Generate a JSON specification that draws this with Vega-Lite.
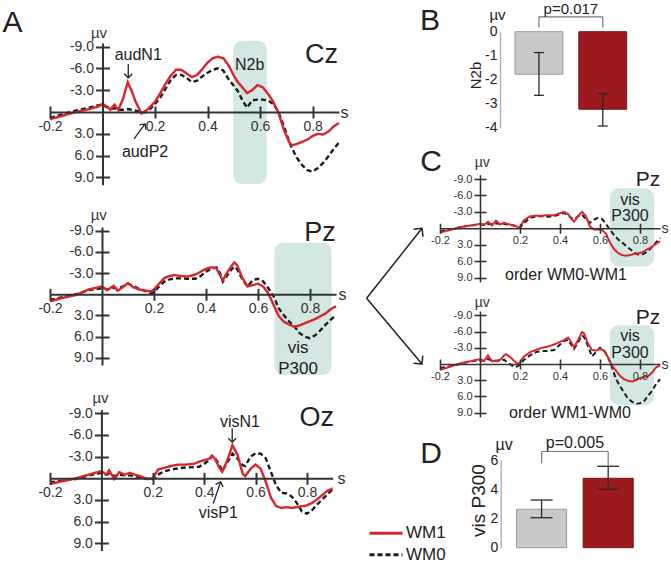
{
"$schema":"https://vega.github.io/schema/vega-lite/v6.json",
"width":671,"height":583,"autosize":{"type":"none"},"padding":0,"background":"white",
"config":{"view":{"stroke":null},"font":"Liberation Sans","text":{"font":"Liberation Sans","color":"#222"},"axis":{"labelFont":"Liberation Sans","titleFont":"Liberation Sans","titleFontWeight":"normal","grid":false},"legend":{"labelFont":"Liberation Sans"}},
"datasets":{"erp":[
{"p":"Cz","t":-0.2,"WM1":1.0,"WM0":0.8},{"p":"Cz","t":-0.15,"WM1":0.5,"WM0":0.3},{"p":"Cz","t":-0.1,"WM1":0.0,"WM0":-0.2},{"p":"Cz","t":-0.05,"WM1":-0.4,"WM0":-0.6},{"p":"Cz","t":-0.02,"WM1":-0.7,"WM0":-0.9},{"p":"Cz","t":0,"WM1":-1.1,"WM0":-1.0},{"p":"Cz","t":0.02,"WM1":-0.7,"WM0":-0.6},{"p":"Cz","t":0.03,"WM1":-0.3,"WM0":-0.4},{"p":"Cz","t":0.045,"WM1":-1.0,"WM0":-0.5},{"p":"Cz","t":0.06,"WM1":-0.3,"WM0":-0.3},{"p":"Cz","t":0.078,"WM1":-1.8,"WM0":-0.3},{"p":"Cz","t":0.096,"WM1":-4.1,"WM0":-0.4},{"p":"Cz","t":0.112,"WM1":-2.8,"WM0":-0.3},{"p":"Cz","t":0.125,"WM1":-1.5,"WM0":-0.2},{"p":"Cz","t":0.148,"WM1":0.2,"WM0":0.1},{"p":"Cz","t":0.17,"WM1":-0.3,"WM0":0.0},{"p":"Cz","t":0.2,"WM1":-1.4,"WM0":-1.1},{"p":"Cz","t":0.22,"WM1":-2.6,"WM0":-2.0},{"p":"Cz","t":0.24,"WM1":-3.9,"WM0":-3.2},{"p":"Cz","t":0.26,"WM1":-5.0,"WM0":-4.4},{"p":"Cz","t":0.28,"WM1":-5.8,"WM0":-5.1},{"p":"Cz","t":0.3,"WM1":-5.8,"WM0":-5.1},{"p":"Cz","t":0.32,"WM1":-5.3,"WM0":-4.7},{"p":"Cz","t":0.34,"WM1":-4.8,"WM0":-4.1},{"p":"Cz","t":0.36,"WM1":-5.1,"WM0":-4.3},{"p":"Cz","t":0.38,"WM1":-5.9,"WM0":-4.9},{"p":"Cz","t":0.4,"WM1":-6.8,"WM0":-5.4},{"p":"Cz","t":0.42,"WM1":-7.4,"WM0":-5.8},{"p":"Cz","t":0.44,"WM1":-7.6,"WM0":-6.0},{"p":"Cz","t":0.46,"WM1":-7.4,"WM0":-5.7},{"p":"Cz","t":0.48,"WM1":-6.4,"WM0":-4.5},{"p":"Cz","t":0.5,"WM1":-5.0,"WM0":-3.6},{"p":"Cz","t":0.515,"WM1":-4.1,"WM0":-2.9},{"p":"Cz","t":0.53,"WM1":-3.5,"WM0":-1.8},{"p":"Cz","t":0.55,"WM1":-2.6,"WM0":-0.6},{"p":"Cz","t":0.57,"WM1":-3.0,"WM0":-1.6},{"p":"Cz","t":0.59,"WM1":-3.7,"WM0":-1.7},{"p":"Cz","t":0.61,"WM1":-3.4,"WM0":-1.7},{"p":"Cz","t":0.63,"WM1":-2.5,"WM0":-1.6},{"p":"Cz","t":0.65,"WM1":-1.4,"WM0":-1.1},{"p":"Cz","t":0.67,"WM1":0.1,"WM0":0.0},{"p":"Cz","t":0.69,"WM1":2.4,"WM0":1.9},{"p":"Cz","t":0.71,"WM1":4.1,"WM0":4.0},{"p":"Cz","t":0.72,"WM1":4.6,"WM0":4.9},{"p":"Cz","t":0.74,"WM1":4.4,"WM0":6.3},{"p":"Cz","t":0.76,"WM1":4.1,"WM0":7.3},{"p":"Cz","t":0.78,"WM1":3.8,"WM0":8.0},{"p":"Cz","t":0.8,"WM1":3.3,"WM0":8.2},{"p":"Cz","t":0.82,"WM1":3.0,"WM0":7.7},{"p":"Cz","t":0.84,"WM1":3.1,"WM0":7.0},{"p":"Cz","t":0.86,"WM1":2.7,"WM0":6.1},{"p":"Cz","t":0.88,"WM1":2.0,"WM0":5.1},{"p":"Cz","t":0.9,"WM1":1.5,"WM0":4.2},
{"p":"Pz","t":-0.2,"WM1":1.0,"WM0":0.8},{"p":"Pz","t":-0.15,"WM1":0.5,"WM0":0.4},{"p":"Pz","t":-0.1,"WM1":0.1,"WM0":0.0},{"p":"Pz","t":-0.05,"WM1":-0.7,"WM0":-0.6},{"p":"Pz","t":0,"WM1":-1.1,"WM0":-0.85},{"p":"Pz","t":0.02,"WM1":-0.6,"WM0":-0.7},{"p":"Pz","t":0.045,"WM1":-1.2,"WM0":-0.9},{"p":"Pz","t":0.06,"WM1":-0.5,"WM0":-0.8},{"p":"Pz","t":0.08,"WM1":-1.0,"WM0":-1.1},{"p":"Pz","t":0.1,"WM1":-1.6,"WM0":-1.5},{"p":"Pz","t":0.12,"WM1":-1.0,"WM0":-1.2},{"p":"Pz","t":0.14,"WM1":-0.7,"WM0":-0.8},{"p":"Pz","t":0.17,"WM1":-0.5,"WM0":-0.4},{"p":"Pz","t":0.19,"WM1":-0.4,"WM0":-0.15},{"p":"Pz","t":0.2,"WM1":-0.7,"WM0":-0.3},{"p":"Pz","t":0.22,"WM1":-1.5,"WM0":-1.1},{"p":"Pz","t":0.24,"WM1":-2.3,"WM0":-1.8},{"p":"Pz","t":0.26,"WM1":-2.6,"WM0":-2.1},{"p":"Pz","t":0.28,"WM1":-2.7,"WM0":-2.25},{"p":"Pz","t":0.3,"WM1":-2.6,"WM0":-2.25},{"p":"Pz","t":0.33,"WM1":-2.5,"WM0":-2.2},{"p":"Pz","t":0.36,"WM1":-2.8,"WM0":-2.2},{"p":"Pz","t":0.38,"WM1":-3.2,"WM0":-2.6},{"p":"Pz","t":0.4,"WM1":-3.6,"WM0":-3.2},{"p":"Pz","t":0.42,"WM1":-3.8,"WM0":-3.6},{"p":"Pz","t":0.44,"WM1":-3.7,"WM0":-3.8},{"p":"Pz","t":0.455,"WM1":-2.6,"WM0":-2.9},{"p":"Pz","t":0.465,"WM1":-2.0,"WM0":-1.8},{"p":"Pz","t":0.48,"WM1":-3.0,"WM0":-2.6},{"p":"Pz","t":0.5,"WM1":-4.1,"WM0":-3.6},{"p":"Pz","t":0.51,"WM1":-4.5,"WM0":-3.9},{"p":"Pz","t":0.52,"WM1":-4.1,"WM0":-3.5},{"p":"Pz","t":0.54,"WM1":-2.3,"WM0":-2.1},{"p":"Pz","t":0.56,"WM1":-1.1,"WM0":-1.1},{"p":"Pz","t":0.58,"WM1":-1.3,"WM0":-2.0},{"p":"Pz","t":0.6,"WM1":-1.5,"WM0":-2.2},{"p":"Pz","t":0.62,"WM1":-1.1,"WM0":-1.8},{"p":"Pz","t":0.64,"WM1":-0.1,"WM0":-0.85},{"p":"Pz","t":0.66,"WM1":1.5,"WM0":0.3},{"p":"Pz","t":0.68,"WM1":3.1,"WM0":2.0},{"p":"Pz","t":0.7,"WM1":3.9,"WM0":3.0},{"p":"Pz","t":0.72,"WM1":4.3,"WM0":3.85},{"p":"Pz","t":0.74,"WM1":4.6,"WM0":4.55},{"p":"Pz","t":0.76,"WM1":4.4,"WM0":5.5},{"p":"Pz","t":0.78,"WM1":4.1,"WM0":6.0},{"p":"Pz","t":0.8,"WM1":3.8,"WM0":6.2},{"p":"Pz","t":0.82,"WM1":3.5,"WM0":5.8},{"p":"Pz","t":0.84,"WM1":3.1,"WM0":5.1},{"p":"Pz","t":0.86,"WM1":2.7,"WM0":4.3},{"p":"Pz","t":0.88,"WM1":2.1,"WM0":3.6},{"p":"Pz","t":0.9,"WM1":1.7,"WM0":2.9},
{"p":"Oz","t":-0.2,"WM1":0.8,"WM0":0.55},{"p":"Oz","t":-0.15,"WM1":0.4,"WM0":0.3},{"p":"Oz","t":-0.1,"WM1":0.0,"WM0":0.1},{"p":"Oz","t":-0.05,"WM1":-0.5,"WM0":-0.4},{"p":"Oz","t":0,"WM1":-1.0,"WM0":-0.75},{"p":"Oz","t":0.02,"WM1":-0.5,"WM0":-0.5},{"p":"Oz","t":0.03,"WM1":-1.1,"WM0":-0.6},{"p":"Oz","t":0.05,"WM1":0.1,"WM0":-0.3},{"p":"Oz","t":0.07,"WM1":-0.85,"WM0":-0.5},{"p":"Oz","t":0.09,"WM1":-0.5,"WM0":-0.4},{"p":"Oz","t":0.11,"WM1":-0.75,"WM0":-0.4},{"p":"Oz","t":0.13,"WM1":-0.5,"WM0":-0.3},{"p":"Oz","t":0.15,"WM1":-0.3,"WM0":-0.15},{"p":"Oz","t":0.18,"WM1":0.1,"WM0":0.1},{"p":"Oz","t":0.2,"WM1":0.0,"WM0":0.1},{"p":"Oz","t":0.22,"WM1":-1.2,"WM0":-0.5},{"p":"Oz","t":0.24,"WM1":-1.4,"WM0":-0.9},{"p":"Oz","t":0.27,"WM1":-1.7,"WM0":-1.2},{"p":"Oz","t":0.3,"WM1":-1.9,"WM0":-1.4},{"p":"Oz","t":0.33,"WM1":-1.9,"WM0":-1.5},{"p":"Oz","t":0.36,"WM1":-2.0,"WM0":-1.55},{"p":"Oz","t":0.38,"WM1":-2.3,"WM0":-1.6},{"p":"Oz","t":0.4,"WM1":-2.5,"WM0":-2.0},{"p":"Oz","t":0.42,"WM1":-2.7,"WM0":-2.5},{"p":"Oz","t":0.43,"WM1":-3.1,"WM0":-3.1},{"p":"Oz","t":0.44,"WM1":-2.8,"WM0":-2.9},{"p":"Oz","t":0.46,"WM1":-1.4,"WM0":-1.8},{"p":"Oz","t":0.47,"WM1":-0.9,"WM0":-1.0},{"p":"Oz","t":0.49,"WM1":-2.5,"WM0":-2.2},{"p":"Oz","t":0.51,"WM1":-4.6,"WM0":-3.4},{"p":"Oz","t":0.53,"WM1":-3.2,"WM0":-2.7},{"p":"Oz","t":0.55,"WM1":-0.6,"WM0":-1.8},{"p":"Oz","t":0.56,"WM1":-0.3,"WM0":-1.7},{"p":"Oz","t":0.58,"WM1":-1.3,"WM0":-3.0},{"p":"Oz","t":0.6,"WM1":-1.9,"WM0":-3.45},{"p":"Oz","t":0.62,"WM1":-1.3,"WM0":-3.4},{"p":"Oz","t":0.64,"WM1":0.55,"WM0":-2.75},{"p":"Oz","t":0.66,"WM1":2.7,"WM0":-0.85},{"p":"Oz","t":0.68,"WM1":3.85,"WM0":1.0},{"p":"Oz","t":0.7,"WM1":4.1,"WM0":2.0},{"p":"Oz","t":0.72,"WM1":4.0,"WM0":2.1},{"p":"Oz","t":0.74,"WM1":4.1,"WM0":2.5},{"p":"Oz","t":0.76,"WM1":4.0,"WM0":3.4},{"p":"Oz","t":0.78,"WM1":3.85,"WM0":4.6},{"p":"Oz","t":0.8,"WM1":3.75,"WM0":4.9},{"p":"Oz","t":0.82,"WM1":3.4,"WM0":4.4},{"p":"Oz","t":0.84,"WM1":2.9,"WM0":3.6},{"p":"Oz","t":0.86,"WM1":2.3,"WM0":2.9},{"p":"Oz","t":0.88,"WM1":1.7,"WM0":2.2},{"p":"Oz","t":0.9,"WM1":1.4,"WM0":1.5},
{"p":"C1","t":-0.2,"WM1":0.8,"WM0":0.6},{"p":"C1","t":-0.15,"WM1":0.3,"WM0":0.2},{"p":"C1","t":-0.1,"WM1":-0.2,"WM0":-0.2},{"p":"C1","t":-0.05,"WM1":-0.5,"WM0":-0.5},{"p":"C1","t":0,"WM1":-0.8,"WM0":-0.7},{"p":"C1","t":0.02,"WM1":-0.6,"WM0":-0.7},{"p":"C1","t":0.04,"WM1":-1.2,"WM0":-0.8},{"p":"C1","t":0.06,"WM1":-0.5,"WM0":-0.8},{"p":"C1","t":0.08,"WM1":-1.4,"WM0":-0.9},{"p":"C1","t":0.1,"WM1":-0.7,"WM0":-0.8},{"p":"C1","t":0.12,"WM1":-1.0,"WM0":-0.8},{"p":"C1","t":0.14,"WM1":-0.8,"WM0":-0.7},{"p":"C1","t":0.17,"WM1":-0.5,"WM0":-0.5},{"p":"C1","t":0.2,"WM1":-0.1,"WM0":-0.1},{"p":"C1","t":0.22,"WM1":-1.5,"WM0":-1.0},{"p":"C1","t":0.25,"WM1":-2.2,"WM0":-1.9},{"p":"C1","t":0.28,"WM1":-2.3,"WM0":-2.2},{"p":"C1","t":0.31,"WM1":-2.3,"WM0":-2.2},{"p":"C1","t":0.34,"WM1":-2.4,"WM0":-2.1},{"p":"C1","t":0.37,"WM1":-2.4,"WM0":-2.2},{"p":"C1","t":0.4,"WM1":-2.75,"WM0":-2.6},{"p":"C1","t":0.42,"WM1":-3.0,"WM0":-2.8},{"p":"C1","t":0.44,"WM1":-2.6,"WM0":-2.4},{"p":"C1","t":0.46,"WM1":-1.6,"WM0":-1.8},{"p":"C1","t":0.47,"WM1":-1.2,"WM0":-1.6},{"p":"C1","t":0.49,"WM1":-2.2,"WM0":-2.2},{"p":"C1","t":0.51,"WM1":-3.0,"WM0":-2.5},{"p":"C1","t":0.53,"WM1":-2.2,"WM0":-1.6},{"p":"C1","t":0.55,"WM1":-0.3,"WM0":-1.0},{"p":"C1","t":0.57,"WM1":0.2,"WM0":-1.6},{"p":"C1","t":0.59,"WM1":0.2,"WM0":-1.9},{"p":"C1","t":0.61,"WM1":0.3,"WM0":-1.7},{"p":"C1","t":0.63,"WM1":1.0,"WM0":-0.8},{"p":"C1","t":0.65,"WM1":2.6,"WM0":0.3},{"p":"C1","t":0.67,"WM1":3.8,"WM0":1.2},{"p":"C1","t":0.69,"WM1":4.5,"WM0":2.0},{"p":"C1","t":0.71,"WM1":4.9,"WM0":2.6},{"p":"C1","t":0.73,"WM1":5.0,"WM0":3.2},{"p":"C1","t":0.75,"WM1":4.9,"WM0":3.8},{"p":"C1","t":0.77,"WM1":4.7,"WM0":4.4},{"p":"C1","t":0.79,"WM1":4.6,"WM0":4.8},{"p":"C1","t":0.81,"WM1":4.4,"WM0":4.8},{"p":"C1","t":0.83,"WM1":4.0,"WM0":4.4},{"p":"C1","t":0.85,"WM1":3.6,"WM0":3.8},{"p":"C1","t":0.87,"WM1":3.1,"WM0":3.0},{"p":"C1","t":0.89,"WM1":2.6,"WM0":2.2},{"p":"C1","t":0.9,"WM1":2.4,"WM0":1.8},
{"p":"C2","t":-0.2,"WM1":1.1,"WM0":0.75},{"p":"C2","t":-0.15,"WM1":0.5,"WM0":0.4},{"p":"C2","t":-0.1,"WM1":-0.1,"WM0":0.0},{"p":"C2","t":-0.05,"WM1":-0.5,"WM0":-0.5},{"p":"C2","t":0,"WM1":-0.9,"WM0":-0.7},{"p":"C2","t":0.02,"WM1":-0.5,"WM0":-0.6},{"p":"C2","t":0.04,"WM1":-1.6,"WM0":-0.9},{"p":"C2","t":0.06,"WM1":-0.5,"WM0":-0.6},{"p":"C2","t":0.08,"WM1":-0.6,"WM0":-0.6},{"p":"C2","t":0.1,"WM1":-0.75,"WM0":-0.6},{"p":"C2","t":0.12,"WM1":-1.6,"WM0":-0.8},{"p":"C2","t":0.13,"WM1":-1.8,"WM0":-0.5},{"p":"C2","t":0.15,"WM1":-1.3,"WM0":0.0},{"p":"C2","t":0.17,"WM1":-0.6,"WM0":0.6},{"p":"C2","t":0.19,"WM1":0.0,"WM0":0.4},{"p":"C2","t":0.2,"WM1":-0.3,"WM0":0.1},{"p":"C2","t":0.22,"WM1":-1.4,"WM0":-0.75},{"p":"C2","t":0.25,"WM1":-2.2,"WM0":-1.6},{"p":"C2","t":0.28,"WM1":-2.6,"WM0":-2.2},{"p":"C2","t":0.31,"WM1":-3.0,"WM0":-2.4},{"p":"C2","t":0.34,"WM1":-3.25,"WM0":-2.4},{"p":"C2","t":0.37,"WM1":-3.6,"WM0":-2.6},{"p":"C2","t":0.4,"WM1":-4.1,"WM0":-3.6},{"p":"C2","t":0.42,"WM1":-4.4,"WM0":-4.25},{"p":"C2","t":0.44,"WM1":-4.9,"WM0":-4.5},{"p":"C2","t":0.45,"WM1":-4.4,"WM0":-3.9},{"p":"C2","t":0.47,"WM1":-3.1,"WM0":-2.8},{"p":"C2","t":0.49,"WM1":-4.4,"WM0":-4.0},{"p":"C2","t":0.51,"WM1":-5.9,"WM0":-5.3},{"p":"C2","t":0.52,"WM1":-5.7,"WM0":-5.0},{"p":"C2","t":0.54,"WM1":-3.75,"WM0":-3.3},{"p":"C2","t":0.56,"WM1":-2.6,"WM0":-1.4},{"p":"C2","t":0.58,"WM1":-2.5,"WM0":-2.2},{"p":"C2","t":0.6,"WM1":-2.8,"WM0":-3.0},{"p":"C2","t":0.62,"WM1":-2.5,"WM0":-2.5},{"p":"C2","t":0.64,"WM1":-1.25,"WM0":-1.25},{"p":"C2","t":0.66,"WM1":0.3,"WM0":0.6},{"p":"C2","t":0.68,"WM1":1.25,"WM0":2.8},{"p":"C2","t":0.7,"WM1":2.2,"WM0":4.1},{"p":"C2","t":0.72,"WM1":2.8,"WM0":5.3},{"p":"C2","t":0.74,"WM1":3.1,"WM0":6.4},{"p":"C2","t":0.76,"WM1":3.25,"WM0":7.0},{"p":"C2","t":0.78,"WM1":3.0,"WM0":7.4},{"p":"C2","t":0.8,"WM1":2.6,"WM0":7.25},{"p":"C2","t":0.82,"WM1":2.4,"WM0":6.9},{"p":"C2","t":0.84,"WM1":2.3,"WM0":5.9},{"p":"C2","t":0.86,"WM1":1.6,"WM0":5.0},{"p":"C2","t":0.88,"WM1":0.6,"WM0":3.75},{"p":"C2","t":0.9,"WM1":0.3,"WM0":2.8}
]},
"layer":[
{"layer":[
 {"data":{"values":[{"a":0.498,"b":0.625,"lo":-9.8,"hi":9.9}]},"mark":{"type":"rect","fill":"#d3e8e3","cornerRadius":9},
  "encoding":{"x":{"field":"a","type":"quantitative","axis":null},"x2":{"field":"b"},"y":{"field":"lo","type":"quantitative","axis":null},"y2":{"field":"hi"}}},
 {"data":{"name":"erp"},"transform":[{"filter":"datum.p == 'Cz'"},{"fold":["WM0","WM1"],"as":["cond","v"]}],
  "mark":{"type":"line","strokeWidth":2.4},
  "encoding":{
   "x":{"field":"t","type":"quantitative","scale":{"domain":[-0.2,0.9],"range":[50,338.9],"nice":false,"zero":false},
    "axis":{"orient":"bottom","offset":-471,"values":[-0.2,0.2,0.4,0.6,0.8],"labelExpr":"datum.value < 0 ? '-' + format(-datum.value, '.1f') : format(datum.value, '.1f')","labelFontSize":14,"labelColor":"#333","labelPadding":1,"labelFlush":false,"labelOverlap":false,"tickSize":6,"tickWidth":2,"tickColor":"#333","domainColor":"#333","domainWidth":2,"title":"s","titleFontSize":16,"titleColor":"#333","titleX":340,"titleY":0,"titleAlign":"left","titleBaseline":"middle","titleAngle":0,"zindex":1}},
   "y":{"field":"v","type":"quantitative","scale":{"domain":[-9.5,10],"range":[42.9,184.7],"nice":false,"zero":false},
    "axis":{"orient":"left","offset":-102.5,"values":[-9,-6,-3,3,6,9],"labelExpr":"datum.value < 0 ? '-' + format(-datum.value, '.1f') : format(datum.value, '.1f')","labelFontSize":14,"labelColor":"#333","labelPadding":2,"labelOverlap":false,"tickSize":7,"tickWidth":2,"tickColor":"#333","domainColor":"#333","domainWidth":2,"title":"µv","titleFontSize":15,"titleColor":"#333","titleAngle":0,"titleX":-4,"titleY":37,"titleAlign":"center","titleBaseline":"alphabetic","zindex":1}},
   "color":{"field":"cond","type":"nominal","scale":{"domain":["WM1","WM0"],"range":["#d8262c","#1c1c1c"]},"legend":{"orient":"none","legendX":373.5,"legendY":520.7,"title":null,"symbolType":"M-1.5,0L1.5,0","symbolSize":484,"symbolStrokeWidth":3,"labelFontSize":17,"labelColor":"#222","labelOffset":7.5,"rowPadding":0.5,"padding":0}},
   "strokeDash":{"field":"cond","type":"nominal","scale":{"domain":["WM1","WM0"],"range":[[1,0],[5,3]]},"legend":{"orient":"none","legendX":373.5,"legendY":520.7,"title":null,"symbolType":"M-1.5,0L1.5,0","symbolSize":484,"symbolStrokeWidth":3,"labelFontSize":17,"labelColor":"#222","labelOffset":7.5,"rowPadding":0.5,"padding":0}}}},
 {"data":{"values":[{"t":0.834,"v":-7.8,"s":"Cz"}]},"mark":{"type":"text","fontSize":27,"color":"#222"},
  "encoding":{"x":{"field":"t","type":"quantitative","axis":{"orient":"top","offset":-112,"values":[-0.2,0.2,0.4,0.6,0.8],"labels":false,"domain":false,"tickSize":6,"tickWidth":2,"tickColor":"#333","title":null,"zindex":1}},
   "y":{"field":"v","type":"quantitative","axis":{"orient":"right","offset":-568.5,"values":[-9,-6,-3,3,6,9],"labels":false,"domain":false,"tickSize":7,"tickWidth":2,"tickColor":"#333","title":null,"zindex":1}},"text":{"field":"s"}}},
 {"data":{"values":[{"t":-0.343,"v":-12.2,"s":"A"}]},"mark":{"type":"text","fontSize":30,"color":"#222"},
  "encoding":{"x":{"field":"t","type":"quantitative","axis":null},"y":{"field":"v","type":"quantitative","axis":null},"text":{"field":"s"}}},
 {"data":{"values":[{"t":0.136,"v":-7.8,"s":"audN1"},{"t":0.162,"v":5.5,"s":"audP2"},{"t":0.56,"v":-6.5,"s":"N2b"}]},"mark":{"type":"text","fontSize":16,"color":"#222"},
  "encoding":{"x":{"field":"t","type":"quantitative","axis":null},"y":{"field":"v","type":"quantitative","axis":null},"text":{"field":"s"}}},
 {"data":{"values":[{"t":0.098,"v":-6.6,"t2":0.098,"v2":-4.7},{"t":0.12,"v":3.7,"t2":0.162,"v2":1.65}]},"mark":{"type":"rule","color":"#222","strokeWidth":1.3},
  "encoding":{"x":{"field":"t","type":"quantitative","axis":null},"y":{"field":"v","type":"quantitative","axis":null},"x2":{"field":"t2"},"y2":{"field":"v2"}}},
 {"data":{"values":[{"t":0.098,"v":-4.7}]},"mark":{"type":"point","shape":"M-1,1L0,0L1,1","size":64,"filled":false,"color":"#222","strokeWidth":1.3,"angle":180,"opacity":1},
  "encoding":{"x":{"field":"t","type":"quantitative","axis":null},"y":{"field":"v","type":"quantitative","axis":null}}},
 {"data":{"values":[{"t":0.162,"v":1.65}]},"mark":{"type":"point","shape":"M-1,1L0,0L1,1","size":64,"filled":false,"color":"#222","strokeWidth":1.3,"angle":36,"opacity":1},
  "encoding":{"x":{"field":"t","type":"quantitative","axis":null},"y":{"field":"v","type":"quantitative","axis":null}}}
],"resolve":{"axis":{"x":"independent","y":"independent"}}},
{"layer":[
 {"data":{"values":[{"a":0.663,"b":0.883,"lo":-7.3,"hi":11.4}]},"mark":{"type":"rect","fill":"#d3e8e3","cornerRadius":9},
  "encoding":{"x":{"field":"a","type":"quantitative","axis":null},"x2":{"field":"b"},"y":{"field":"lo","type":"quantitative","axis":null},"y2":{"field":"hi"}}},
 {"data":{"name":"erp"},"transform":[{"filter":"datum.p == 'Pz'"},{"fold":["WM0","WM1"],"as":["cond","v"]}],
  "mark":{"type":"line","strokeWidth":2.4},
  "encoding":{
   "x":{"field":"t","type":"quantitative","scale":{"domain":[-0.2,0.9],"range":[50,336],"nice":false,"zero":false},
    "axis":{"orient":"bottom","offset":-288.7,"values":[-0.2,0.2,0.4,0.6,0.8],"labelExpr":"datum.value < 0 ? '-' + format(-datum.value, '.1f') : format(datum.value, '.1f')","labelFontSize":14,"labelColor":"#333","labelPadding":1,"labelFlush":false,"labelOverlap":false,"tickSize":6,"tickWidth":2,"tickColor":"#333","domainColor":"#333","domainWidth":2,"title":"s","titleFontSize":16,"titleColor":"#333","titleX":338,"titleY":0,"titleAlign":"left","titleBaseline":"middle","titleAngle":0,"zindex":1}},
   "y":{"field":"v","type":"quantitative","scale":{"domain":[-9.5,10],"range":[227.1,365],"nice":false,"zero":false},
    "axis":{"orient":"left","offset":-102,"values":[-9,-6,-3,3,6,9],"labelExpr":"datum.value < 0 ? '-' + format(-datum.value, '.1f') : format(datum.value, '.1f')","labelFontSize":14,"labelColor":"#333","labelPadding":2,"labelOverlap":false,"tickSize":7,"tickWidth":2,"tickColor":"#333","domainColor":"#333","domainWidth":2,"title":"µv","titleFontSize":15,"titleColor":"#333","titleAngle":0,"titleX":-3.7,"titleY":219,"titleAlign":"center","titleBaseline":"alphabetic","zindex":1}},
   "color":{"field":"cond","type":"nominal","scale":{"domain":["WM1","WM0"],"range":["#d8262c","#1c1c1c"]},"legend":{"orient":"none","legendX":373.5,"legendY":520.7,"title":null,"symbolType":"M-1.5,0L1.5,0","symbolSize":484,"symbolStrokeWidth":3,"labelFontSize":17,"labelColor":"#222","labelOffset":7.5,"rowPadding":0.5,"padding":0}},
   "strokeDash":{"field":"cond","type":"nominal","scale":{"domain":["WM1","WM0"],"range":[[1,0],[5,3]]},"legend":{"orient":"none","legendX":373.5,"legendY":520.7,"title":null,"symbolType":"M-1.5,0L1.5,0","symbolSize":484,"symbolStrokeWidth":3,"labelFontSize":17,"labelColor":"#222","labelOffset":7.5,"rowPadding":0.5,"padding":0}}}},
 {"data":{"values":[{"t":0.838,"v":-8.6,"s":"Pz"}]},"mark":{"type":"text","fontSize":27,"color":"#222"},
  "encoding":{"x":{"field":"t","type":"quantitative","axis":{"orient":"top","offset":-294.3,"values":[-0.2,0.2,0.4,0.6,0.8],"labels":false,"domain":false,"tickSize":6,"tickWidth":2,"tickColor":"#333","title":null,"zindex":1}},
   "y":{"field":"v","type":"quantitative","axis":{"orient":"right","offset":-569,"values":[-9,-6,-3,3,6,9],"labels":false,"domain":false,"tickSize":7,"tickWidth":2,"tickColor":"#333","title":null,"zindex":1}},"text":{"field":"s"}}},
 {"data":{"values":[{"t":0.754,"v":7.6,"s":"vis"},{"t":0.754,"v":10.5,"s":"P300"}]},"mark":{"type":"text","fontSize":17,"color":"#222"},
  "encoding":{"x":{"field":"t","type":"quantitative","axis":null},"y":{"field":"v","type":"quantitative","axis":null},"text":{"field":"s"}}}
],"resolve":{"axis":{"x":"independent","y":"independent"}}},
{"layer":[
 {"data":{"name":"erp"},"transform":[{"filter":"datum.p == 'Oz'"},{"fold":["WM0","WM1"],"as":["cond","v"]}],
  "mark":{"type":"line","strokeWidth":2.4},
  "encoding":{
   "x":{"field":"t","type":"quantitative","scale":{"domain":[-0.2,0.9],"range":[50,332.7],"nice":false,"zero":false},
    "axis":{"orient":"bottom","offset":-104.7,"values":[-0.2,0.2,0.4,0.6,0.8],"labelExpr":"datum.value < 0 ? '-' + format(-datum.value, '.1f') : format(datum.value, '.1f')","labelFontSize":14,"labelColor":"#333","labelPadding":1,"labelFlush":false,"labelOverlap":false,"tickSize":6,"tickWidth":2,"tickColor":"#333","domainColor":"#333","domainWidth":2,"title":"s","titleFontSize":16,"titleColor":"#333","titleX":337,"titleY":0,"titleAlign":"left","titleBaseline":"middle","titleAngle":0,"zindex":1}},
   "y":{"field":"v","type":"quantitative","scale":{"domain":[-9.5,10],"range":[409.7,550.5],"nice":false,"zero":false},
    "axis":{"orient":"left","offset":-101.4,"values":[-9,-6,-3,3,6,9],"labelExpr":"datum.value < 0 ? '-' + format(-datum.value, '.1f') : format(datum.value, '.1f')","labelFontSize":14,"labelColor":"#333","labelPadding":2,"labelOverlap":false,"tickSize":7,"tickWidth":2,"tickColor":"#333","domainColor":"#333","domainWidth":2,"title":"µv","titleFontSize":15,"titleColor":"#333","titleAngle":0,"titleX":-1.4,"titleY":402,"titleAlign":"center","titleBaseline":"alphabetic","zindex":1}},
   "color":{"field":"cond","type":"nominal","scale":{"domain":["WM1","WM0"],"range":["#d8262c","#1c1c1c"]},"legend":{"orient":"none","legendX":373.5,"legendY":520.7,"title":null,"symbolType":"M-1.5,0L1.5,0","symbolSize":484,"symbolStrokeWidth":3,"labelFontSize":17,"labelColor":"#222","labelOffset":7.5,"rowPadding":0.5,"padding":0}},
   "strokeDash":{"field":"cond","type":"nominal","scale":{"domain":["WM1","WM0"],"range":[[1,0],[5,3]]},"legend":{"orient":"none","legendX":373.5,"legendY":520.7,"title":null,"symbolType":"M-1.5,0L1.5,0","symbolSize":484,"symbolStrokeWidth":3,"labelFontSize":17,"labelColor":"#222","labelOffset":7.5,"rowPadding":0.5,"padding":0}}}},
 {"data":{"values":[{"t":0.838,"v":-8.3,"s":"Oz"}]},"mark":{"type":"text","fontSize":27,"color":"#222"},
  "encoding":{"x":{"field":"t","type":"quantitative","axis":{"orient":"top","offset":-478.3,"values":[-0.2,0.2,0.4,0.6,0.8],"labels":false,"domain":false,"tickSize":6,"tickWidth":2,"tickColor":"#333","title":null,"zindex":1}},
   "y":{"field":"v","type":"quantitative","axis":{"orient":"right","offset":-569.6,"values":[-9,-6,-3,3,6,9],"labels":false,"domain":false,"tickSize":7,"tickWidth":2,"tickColor":"#333","title":null,"zindex":1}},"text":{"field":"s"}}},
 {"data":{"values":[{"t":0.539,"v":-7.8,"s":"visN1"},{"t":0.455,"v":4.85,"s":"visP1"}]},"mark":{"type":"text","fontSize":16,"color":"#222"},
  "encoding":{"x":{"field":"t","type":"quantitative","axis":null},"y":{"field":"v","type":"quantitative","axis":null},"text":{"field":"s"}}},
 {"data":{"values":[{"t":0.509,"v":-6.9,"t2":0.509,"v2":-5.0},{"t":0.435,"v":3.5,"t2":0.464,"v2":0.5}]},"mark":{"type":"rule","color":"#222","strokeWidth":1.3},
  "encoding":{"x":{"field":"t","type":"quantitative","axis":null},"y":{"field":"v","type":"quantitative","axis":null},"x2":{"field":"t2"},"y2":{"field":"v2"}}},
 {"data":{"values":[{"t":0.509,"v":-5.0}]},"mark":{"type":"point","shape":"M-1,1L0,0L1,1","size":64,"filled":false,"color":"#222","strokeWidth":1.3,"angle":180,"opacity":1},
  "encoding":{"x":{"field":"t","type":"quantitative","axis":null},"y":{"field":"v","type":"quantitative","axis":null}}},
 {"data":{"values":[{"t":0.464,"v":0.5}]},"mark":{"type":"point","shape":"M-1,1L0,0L1,1","size":64,"filled":false,"color":"#222","strokeWidth":1.3,"angle":19,"opacity":1},
  "encoding":{"x":{"field":"t","type":"quantitative","axis":null},"y":{"field":"v","type":"quantitative","axis":null}}}
],"resolve":{"axis":{"x":"independent","y":"independent"}}},
{"layer":[
 {"data":{"values":[{"a":0.65,"b":0.87,"lo":-7.3,"hi":7.0}]},"mark":{"type":"rect","fill":"#d3e8e3","cornerRadius":9},
  "encoding":{"x":{"field":"a","type":"quantitative","axis":null},"x2":{"field":"b"},"y":{"field":"lo","type":"quantitative","axis":null},"y2":{"field":"hi"}}},
 {"data":{"name":"erp"},"transform":[{"filter":"datum.p == 'C1'"},{"fold":["WM0","WM1"],"as":["cond","v"]}],
  "mark":{"type":"line","strokeWidth":2},
  "encoding":{
   "x":{"field":"t","type":"quantitative","scale":{"domain":[-0.2,0.9],"range":[440,660],"nice":false,"zero":false},
    "axis":{"orient":"bottom","offset":-354.7,"values":[-0.2,0.2,0.4,0.6,0.8],"labelExpr":"datum.value < 0 ? '-' + format(-datum.value, '.1f') : format(datum.value, '.1f')","labelFontSize":11,"labelColor":"#333","labelPadding":1,"labelFlush":false,"labelOverlap":false,"tickSize":5,"tickWidth":1.6,"tickColor":"#333","domainColor":"#333","domainWidth":1.6,"title":"s","titleFontSize":14,"titleColor":"#333","titleX":661,"titleY":0,"titleAlign":"left","titleBaseline":"middle","titleAngle":0,"zindex":1}},
   "y":{"field":"v","type":"quantitative","scale":{"domain":[-9.8,9.8],"range":[174.7,281.9],"nice":false,"zero":false},
    "axis":{"orient":"left","offset":-480,"values":[-9,-6,-3,3,6,9],"labelExpr":"datum.value < 0 ? '-' + format(-datum.value, '.1f') : format(datum.value, '.1f')","labelFontSize":11,"labelColor":"#333","labelPadding":2,"labelOverlap":false,"tickSize":6,"tickWidth":1.6,"tickColor":"#333","domainColor":"#333","domainWidth":1.6,"title":"µv","titleFontSize":14,"titleColor":"#333","titleAngle":0,"titleX":1.7,"titleY":166,"titleAlign":"center","titleBaseline":"alphabetic","zindex":1}},
   "color":{"field":"cond","type":"nominal","scale":{"domain":["WM1","WM0"],"range":["#d8262c","#1c1c1c"]},"legend":{"orient":"none","legendX":373.5,"legendY":520.7,"title":null,"symbolType":"M-1.5,0L1.5,0","symbolSize":484,"symbolStrokeWidth":3,"labelFontSize":17,"labelColor":"#222","labelOffset":7.5,"rowPadding":0.5,"padding":0}},
   "strokeDash":{"field":"cond","type":"nominal","scale":{"domain":["WM1","WM0"],"range":[[1,0],[5,3]]},"legend":{"orient":"none","legendX":373.5,"legendY":520.7,"title":null,"symbolType":"M-1.5,0L1.5,0","symbolSize":484,"symbolStrokeWidth":3,"labelFontSize":17,"labelColor":"#222","labelOffset":7.5,"rowPadding":0.5,"padding":0}}}},
 {"data":{"values":[{"t":0.84,"v":-8.8,"s":"Pz"}]},"mark":{"type":"text","fontSize":21,"color":"#222"},
  "encoding":{"x":{"field":"t","type":"quantitative","axis":{"orient":"top","offset":-228.3,"values":[-0.2,0.2,0.4,0.6,0.8],"labels":false,"domain":false,"tickSize":5,"tickWidth":1.6,"tickColor":"#333","title":null,"zindex":1}},
   "y":{"field":"v","type":"quantitative","axis":{"orient":"right","offset":-191,"values":[-9,-6,-3,3,6,9],"labels":false,"domain":false,"tickSize":6,"tickWidth":1.6,"tickColor":"#333","title":null,"zindex":1}},"text":{"field":"s"}}},
 {"data":{"values":[{"t":0.75,"v":-5.2,"s":"vis"},{"t":0.75,"v":-2.25,"s":"P300"},{"t":0.43,"v":8.5,"s":"order WM0-WM1"}]},"mark":{"type":"text","fontSize":16,"color":"#222"},
  "encoding":{"x":{"field":"t","type":"quantitative","axis":null},"y":{"field":"v","type":"quantitative","axis":null},"text":{"field":"s"}}},
 {"data":{"values":[{"t":-0.25,"v":-37.9,"s":"B"},{"t":-0.245,"v":-12.2,"s":"C"}]},"mark":{"type":"text","fontSize":30,"color":"#222"},
  "encoding":{"x":{"field":"t","type":"quantitative","axis":null},"y":{"field":"v","type":"quantitative","axis":null},"text":{"field":"s"}}},
 {"data":{"values":[{"t":-0.567,"v":12.8,"t2":-0.29,"v2":0}]},"mark":{"type":"rule","color":"#222","strokeWidth":1.5},
  "encoding":{"x":{"field":"t","type":"quantitative","axis":null},"y":{"field":"v","type":"quantitative","axis":null},"x2":{"field":"t2"},"y2":{"field":"v2"}}},
 {"data":{"values":[{"t":-0.29,"v":0}]},"mark":{"type":"point","shape":"M-1,1L0,0L1,1","size":144,"filled":false,"color":"#222","strokeWidth":1.5,"angle":38,"opacity":1},
  "encoding":{"x":{"field":"t","type":"quantitative","axis":null},"y":{"field":"v","type":"quantitative","axis":null}}}
],"resolve":{"axis":{"x":"independent","y":"independent"}}},
{"layer":[
 {"data":{"values":[{"a":0.65,"b":0.87,"lo":-7.2,"hi":7.6}]},"mark":{"type":"rect","fill":"#d3e8e3","cornerRadius":9},
  "encoding":{"x":{"field":"a","type":"quantitative","axis":null},"x2":{"field":"b"},"y":{"field":"lo","type":"quantitative","axis":null},"y2":{"field":"hi"}}},
 {"data":{"name":"erp"},"transform":[{"filter":"datum.p == 'C2'"},{"fold":["WM0","WM1"],"as":["cond","v"]}],
  "mark":{"type":"line","strokeWidth":2},
  "encoding":{
   "x":{"field":"t","type":"quantitative","scale":{"domain":[-0.2,0.9],"range":[440,660],"nice":false,"zero":false},
    "axis":{"orient":"bottom","offset":-219,"values":[-0.2,0.2,0.4,0.6,0.8],"labelExpr":"datum.value < 0 ? '-' + format(-datum.value, '.1f') : format(datum.value, '.1f')","labelFontSize":11,"labelColor":"#333","labelPadding":1,"labelFlush":false,"labelOverlap":false,"tickSize":5,"tickWidth":1.6,"tickColor":"#333","domainColor":"#333","domainWidth":1.6,"title":"s","titleFontSize":14,"titleColor":"#333","titleX":661,"titleY":0,"titleAlign":"left","titleBaseline":"middle","titleAngle":0,"zindex":1}},
   "y":{"field":"v","type":"quantitative","scale":{"domain":[-9.8,9.8],"range":[311.1,416.9],"nice":false,"zero":false},
    "axis":{"orient":"left","offset":-480,"values":[-9,-6,-3,3,6,9],"labelExpr":"datum.value < 0 ? '-' + format(-datum.value, '.1f') : format(datum.value, '.1f')","labelFontSize":11,"labelColor":"#333","labelPadding":2,"labelOverlap":false,"tickSize":6,"tickWidth":1.6,"tickColor":"#333","domainColor":"#333","domainWidth":1.6,"title":"µv","titleFontSize":14,"titleColor":"#333","titleAngle":0,"titleX":1.7,"titleY":306,"titleAlign":"center","titleBaseline":"alphabetic","zindex":1}},
   "color":{"field":"cond","type":"nominal","scale":{"domain":["WM1","WM0"],"range":["#d8262c","#1c1c1c"]},"legend":{"orient":"none","legendX":373.5,"legendY":520.7,"title":null,"symbolType":"M-1.5,0L1.5,0","symbolSize":484,"symbolStrokeWidth":3,"labelFontSize":17,"labelColor":"#222","labelOffset":7.5,"rowPadding":0.5,"padding":0}},
   "strokeDash":{"field":"cond","type":"nominal","scale":{"domain":["WM1","WM0"],"range":[[1,0],[5,3]]},"legend":{"orient":"none","legendX":373.5,"legendY":520.7,"title":null,"symbolType":"M-1.5,0L1.5,0","symbolSize":484,"symbolStrokeWidth":3,"labelFontSize":17,"labelColor":"#222","labelOffset":7.5,"rowPadding":0.5,"padding":0}}}},
 {"data":{"values":[{"t":0.84,"v":-8.5,"s":"Pz"}]},"mark":{"type":"text","fontSize":21,"color":"#222"},
  "encoding":{"x":{"field":"t","type":"quantitative","axis":{"orient":"top","offset":-364,"values":[-0.2,0.2,0.4,0.6,0.8],"labels":false,"domain":false,"tickSize":5,"tickWidth":1.6,"tickColor":"#333","title":null,"zindex":1}},
   "y":{"field":"v","type":"quantitative","axis":{"orient":"right","offset":-191,"values":[-9,-6,-3,3,6,9],"labels":false,"domain":false,"tickSize":6,"tickWidth":1.6,"tickColor":"#333","title":null,"zindex":1}},"text":{"field":"s"}}},
 {"data":{"values":[{"t":0.75,"v":-5.1,"s":"vis"},{"t":0.75,"v":-2.1,"s":"P300"},{"t":0.45,"v":9.1,"s":"order WM1-WM0"}]},"mark":{"type":"text","fontSize":16,"color":"#222"},
  "encoding":{"x":{"field":"t","type":"quantitative","axis":null},"y":{"field":"v","type":"quantitative","axis":null},"text":{"field":"s"}}},
 {"data":{"values":[{"t":-0.245,"v":16.7,"s":"D"}]},"mark":{"type":"text","fontSize":30,"color":"#222"},
  "encoding":{"x":{"field":"t","type":"quantitative","axis":null},"y":{"field":"v","type":"quantitative","axis":null},"text":{"field":"s"}}},
 {"data":{"values":[{"t":-0.567,"v":-12.2,"t2":-0.29,"v2":0}]},"mark":{"type":"rule","color":"#222","strokeWidth":1.5},
  "encoding":{"x":{"field":"t","type":"quantitative","axis":null},"y":{"field":"v","type":"quantitative","axis":null},"x2":{"field":"t2"},"y2":{"field":"v2"}}},
 {"data":{"values":[{"t":-0.29,"v":0}]},"mark":{"type":"point","shape":"M-1,1L0,0L1,1","size":144,"filled":false,"color":"#222","strokeWidth":1.5,"angle":140,"opacity":1},
  "encoding":{"x":{"field":"t","type":"quantitative","axis":null},"y":{"field":"v","type":"quantitative","axis":null}}}
],"resolve":{"axis":{"x":"independent","y":"independent"}}},
{"data":{"values":[{"g":"WM0","m":-1.77,"lo":-0.87,"hi":-2.65},{"g":"WM1","m":-3.23,"lo":-2.58,"hi":-3.93}]},
 "layer":[
 {"mark":{"type":"bar","strokeWidth":1},
  "encoding":{
   "x":{"field":"g","type":"nominal","sort":null,"scale":{"domain":["WM0","WM1"],"range":[500,641.7],"paddingInner":0.25,"paddingOuter":0.235},
    "axis":{"orient":"bottom","offset":-455.3,"labelAngle":0,"labelFontSize":15,"labelColor":"#222","labelPadding":2,"tickSize":4,"tickColor":"#999","tickWidth":1,"domainColor":"#aaa","domainWidth":1.3,"title":null,"zindex":1}},
   "y":{"field":"m","type":"quantitative","scale":{"domain":[-4,0],"range":[127.7,31.7],"nice":false},
    "axis":{"orient":"left","offset":-500,"values":[0,-1,-2,-3,-4],"labelExpr":"datum.value < 0 ? '-' + format(-datum.value, 'd') : format(datum.value, 'd')","labelFontSize":14,"labelColor":"#222","labelPadding":3,"ticks":false,"domainColor":"#aaa","domainWidth":1.3,"title":"N2b","titleFontSize":15,"titleColor":"#222","titleAngle":-90,"titleX":-25,"titleY":75,"titleAlign":"center","titleBaseline":"middle","zindex":1}},
   "fill":{"field":"g","type":"nominal","scale":{"domain":["WM0","WM1"],"range":["#c9c9c9","#9c1a1e"]},"legend":null},
   "stroke":{"field":"g","type":"nominal","scale":{"domain":["WM0","WM1"],"range":["#9a9a9a","#7c1215"]},"legend":null}}},
 {"mark":{"type":"rule","color":"#2a2a2a","strokeWidth":1.3},
  "encoding":{"x":{"field":"g","type":"nominal","axis":null},"y":{"field":"lo","type":"quantitative","axis":null},"y2":{"field":"hi"}}},
 {"mark":{"type":"tick","color":"#2a2a2a","thickness":1.3,"size":10,"opacity":1},
  "encoding":{"x":{"field":"g","type":"nominal","axis":null},"y":{"field":"lo","type":"quantitative","axis":null}}},
 {"mark":{"type":"tick","color":"#2a2a2a","thickness":1.3,"size":10,"opacity":1},
  "encoding":{"x":{"field":"g","type":"nominal","axis":null},"y":{"field":"hi","type":"quantitative","axis":null}}},
 {"data":{"values":[{"a":"WM0","b":"WM1"}]},"mark":{"type":"rule","color":"#777","strokeWidth":1.2},
  "encoding":{"x":{"field":"a","type":"nominal","axis":null},"x2":{"field":"b"},"y":{"datum":0.62,"type":"quantitative","axis":null}}},
 {"data":{"values":[{"a":"WM0"},{"a":"WM1"}]},"mark":{"type":"rule","color":"#777","strokeWidth":1.2},
  "encoding":{"x":{"field":"a","type":"nominal","axis":null},"y":{"datum":0.18,"type":"quantitative","axis":null},"y2":{"datum":0.62}}},
 {"data":{"values":[{"s":"p=0.017"}]},"mark":{"type":"text","fontSize":15,"color":"#222","dx":8},
  "encoding":{"x":{"datum":"WM0","type":"nominal","bandPosition":1,"axis":null},
   "y":{"datum":0.96,"type":"quantitative","axis":{"orient":"left","offset":-500,"labels":false,"ticks":false,"domain":false,"title":"µv","titleFontSize":15,"titleColor":"#222","titleAngle":0,"titleX":-3,"titleY":19,"titleAlign":"center","titleBaseline":"alphabetic","zindex":1}},
   "text":{"field":"s"}}}
],"resolve":{"axis":{"y":"independent"}}},
{"data":{"values":[{"g":"First task","m":2.63,"lo":2.05,"hi":3.26},{"g":"Second task","m":4.75,"lo":4.0,"hi":5.57}]},
 "layer":[
 {"mark":{"type":"bar","strokeWidth":1},
  "encoding":{
   "x":{"field":"g","type":"nominal","sort":null,"scale":{"domain":["First task","Second task"],"range":[500.7,640],"paddingInner":0.249,"paddingOuter":0.17,"align":0.7},
    "axis":{"orient":"bottom","offset":-35.3,"labelAngle":0,"labelExpr":"split(datum.label, ' ')","labelFontSize":15,"labelLineHeight":15,"labelColor":"#222","labelPadding":2,"tickSize":4,"tickColor":"#999","tickWidth":1,"domainColor":"#aaa","domainWidth":1.3,"title":null,"zindex":1}},
   "y":{"field":"m","type":"quantitative","scale":{"domain":[0,6],"range":[547.7,460],"nice":false},
    "axis":{"orient":"left","offset":-500.7,"values":[0,2,4,6],"labelFontSize":14,"labelColor":"#222","labelPadding":3,"ticks":false,"domainColor":"#aaa","domainWidth":1.3,"title":"vis P300","titleFontSize":19,"titleColor":"#222","titleAngle":-90,"titleX":-22.7,"titleY":500,"titleAlign":"center","titleBaseline":"middle","zindex":1}},
   "fill":{"field":"g","type":"nominal","scale":{"domain":["First task","Second task"],"range":["#c9c9c9","#9c1a1e"]},"legend":null},
   "stroke":{"field":"g","type":"nominal","scale":{"domain":["First task","Second task"],"range":["#9a9a9a","#7c1215"]},"legend":null}}},
 {"mark":{"type":"rule","color":"#2a2a2a","strokeWidth":1.3},
  "encoding":{"x":{"field":"g","type":"nominal","axis":null},"y":{"field":"lo","type":"quantitative","axis":null},"y2":{"field":"hi"}}},
 {"mark":{"type":"tick","color":"#2a2a2a","thickness":1.3,"size":22,"opacity":1},
  "encoding":{"x":{"field":"g","type":"nominal","axis":null},"y":{"field":"lo","type":"quantitative","axis":null}}},
 {"mark":{"type":"tick","color":"#2a2a2a","thickness":1.3,"size":22,"opacity":1},
  "encoding":{"x":{"field":"g","type":"nominal","axis":null},"y":{"field":"hi","type":"quantitative","axis":null}}},
 {"data":{"values":[{"a":"First task","b":"Second task"}]},"mark":{"type":"rule","color":"#777","strokeWidth":1.2},
  "encoding":{"x":{"field":"a","type":"nominal","axis":null},"x2":{"field":"b"},"y":{"datum":6.58,"type":"quantitative","axis":null}}},
 {"data":{"values":[{"a":"First task","y0":5.78},{"a":"Second task","y0":5.6}]},"mark":{"type":"rule","color":"#777","strokeWidth":1.2},
  "encoding":{"x":{"field":"a","type":"nominal","axis":null},"y":{"field":"y0","type":"quantitative","axis":null},"y2":{"datum":6.58}}},
 {"data":{"values":[{"s":"p=0.005"}]},"mark":{"type":"text","fontSize":16,"color":"#222","dx":8.3},
  "encoding":{"x":{"datum":"First task","type":"nominal","bandPosition":1,"axis":null},
   "y":{"datum":7.15,"type":"quantitative","axis":{"orient":"left","offset":-500.7,"labels":false,"ticks":false,"domain":false,"title":"µv","titleFontSize":16,"titleColor":"#222","titleAngle":0,"titleX":3,"titleY":449,"titleAlign":"center","titleBaseline":"alphabetic","zindex":1}},
   "text":{"field":"s"}}}
],"resolve":{"axis":{"y":"independent"}}}
],
"resolve":{"scale":{"x":"independent","y":"independent","fill":"independent","stroke":"independent"},"axis":{"x":"independent","y":"independent"}}
}
